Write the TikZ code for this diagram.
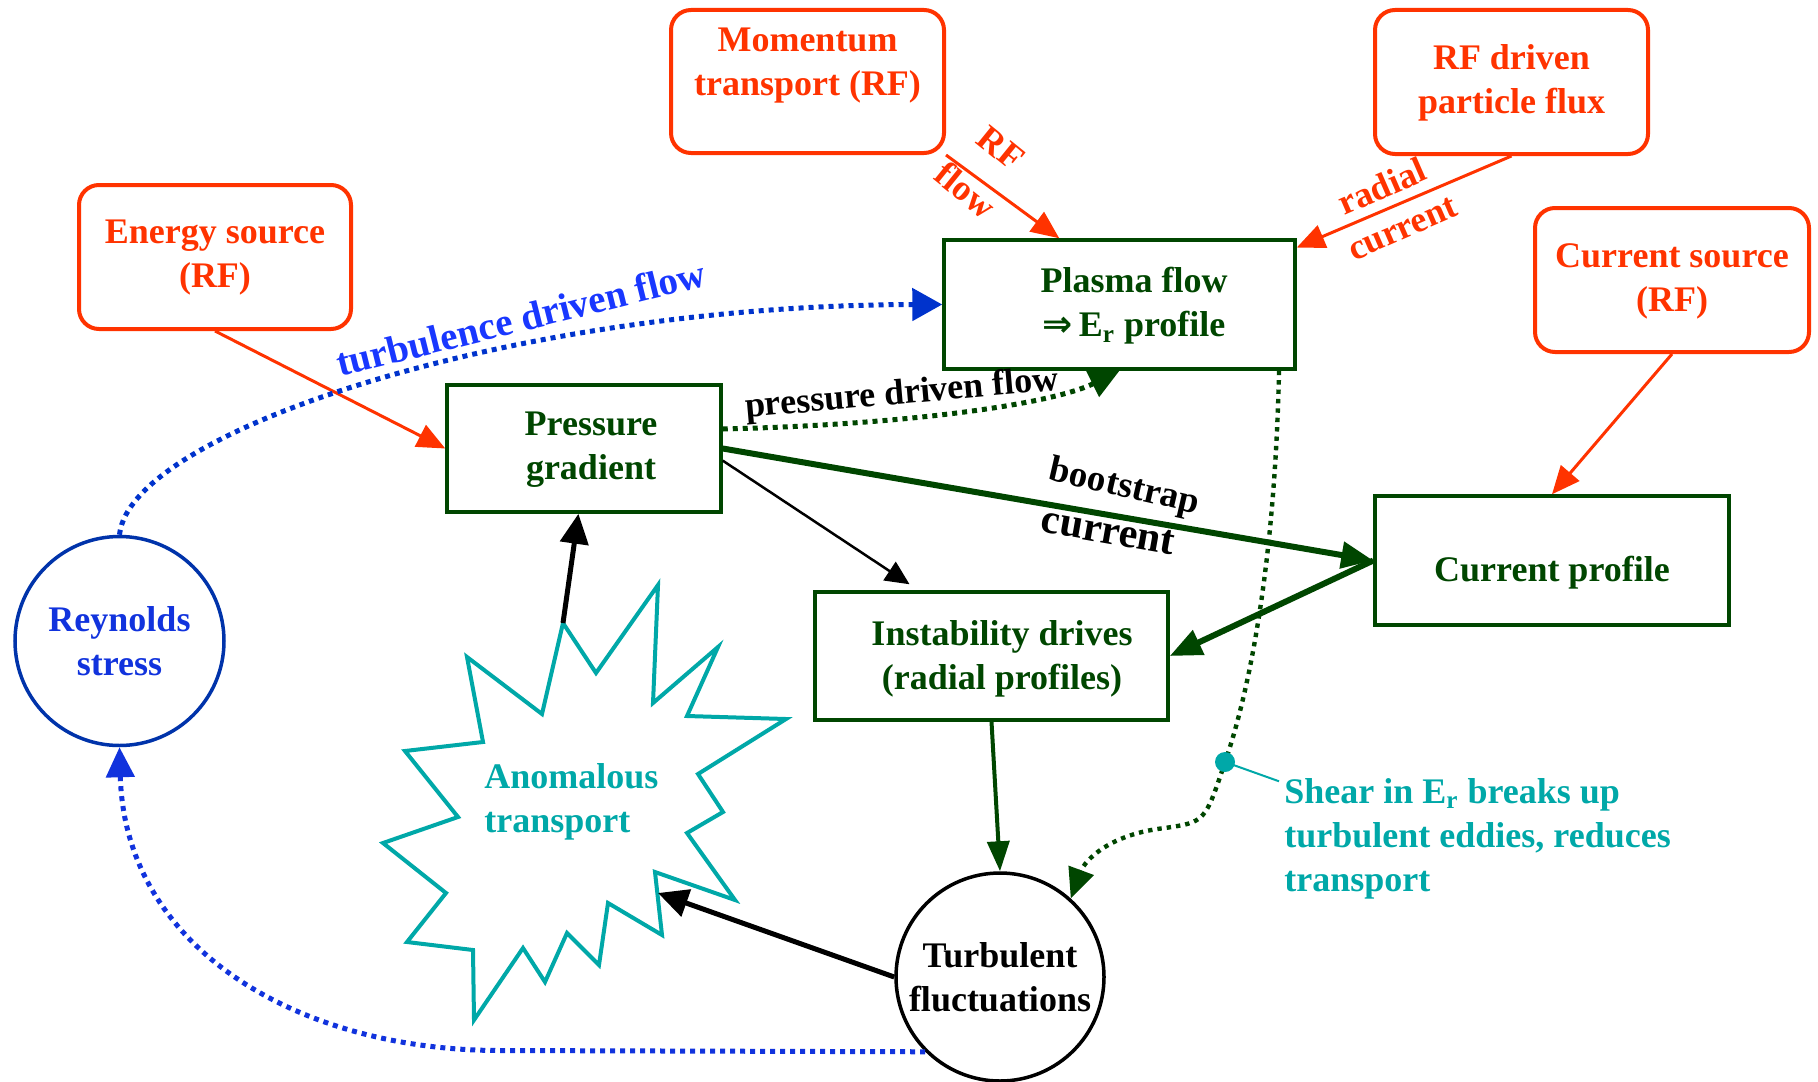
\documentclass[tikz,border=0pt]{standalone}
\usepackage{fontspec}
\setmainfont{Liberation Serif}
\newfontfamily\symfont{DejaVu Sans}
\usetikzlibrary{arrows.meta,calc}
\definecolor{rfred}{RGB}{255,51,0}
\definecolor{dgreen}{RGB}{0,70,0}
\definecolor{tealc}{RGB}{0,168,168}
\definecolor{cblue}{RGB}{0,51,170}
\definecolor{tblue}{RGB}{25,55,255}
\definecolor{lblue}{RGB}{0,51,204}
\definecolor{bblue}{RGB}{17,51,221}
\begin{document}
\begin{tikzpicture}[x=0.5pt,y=-0.5pt,
  txt/.style={font=\fontsize{18}{22}\selectfont\bfseries, align=center, inner sep=0pt},
  rbox/.style={draw=rfred, line width=2pt, rounded corners=10pt, inner sep=0pt},
  gbox/.style={draw=dgreen, line width=1.75pt, inner sep=0pt},
  redarr/.style={draw=rfred, line width=1.5pt, -{Triangle[length=14pt,width=12pt]}},
  garrow/.style={draw=dgreen, line width=3pt, -{Triangle[length=16pt,width=13pt]}},
  garrowb/.style={draw=dgreen, line width=2pt, -{Triangle[length=15pt,width=11pt]}},
  barrow/.style={draw=black, line width=1.25pt, -{Triangle[length=12pt,width=11pt]}},
  bkthick/.style={draw=black, line width=2.5pt, -{Triangle[length=15pt,width=14pt]}},
  bluedot/.style={draw=lblue, line width=2.5pt, dash pattern=on 2.5pt off 2.5pt, -{Triangle[length=15pt,width=16pt]}},
  bluedotb/.style={draw=bblue, line width=2.5pt, dash pattern=on 2.5pt off 2.5pt, -{Triangle[length=15pt,width=14pt]}},
  greendot/.style={draw=dgreen, line width=2.5pt, dash pattern=on 2.5pt off 2.5pt, -{Triangle[length=15pt,width=14pt]}},
  greendotb/.style={draw=dgreen, line width=2.2pt, dash pattern=on 2.2pt off 2.5pt, -{Triangle[length=15pt,width=13pt]}}
]
\useasboundingbox (0,0) rectangle (1818,1081);

% red source boxes
\node[rbox, minimum width=136.5pt, minimum height=71.5pt] (mom) at (807.5,81.5) {};
\node[txt, text=rfred] (momt) at (807.5,66) {Momentum\\transport (RF)};
\node[rbox, minimum width=136.5pt, minimum height=72pt] (rfd) at (1511.5,82) {};
\node[txt, text=rfred] (rfdt) at (1511.5,83) {RF driven\\particle flux};
\node[rbox, minimum width=136pt, minimum height=72pt] (energy) at (215,257) {};
\node[txt, text=rfred] (energyt) at (215,258) {Energy source\\(RF)};
\node[rbox, minimum width=137pt, minimum height=72pt] (csrc) at (1672,280) {};
\node[txt, text=rfred] (csrct) at (1672,281) {Current source\\(RF)};

% green boxes
\node[gbox, minimum width=175.5pt, minimum height=64.5pt] (plasma) at (1119.5,304.5) {};
\node[txt, text=dgreen] (plasmat) at (1134,306) {Plasma flow\\{\symfont\bfseries ⇒}\,E\textsubscript{r} profile};
\node[gbox, minimum width=137pt, minimum height=63.5pt] (press) at (584,448.5) {};
\node[txt, text=dgreen] (presst) at (591,450) {Pressure\\gradient};
\node[gbox, minimum width=177pt, minimum height=64.5pt] (cprof) at (1552,560.5) {};
\node[txt, text=dgreen] (cproft) at (1552,573) {Current profile};
\node[gbox, minimum width=176.5pt, minimum height=64pt] (instab) at (991.5,656) {};
\node[txt, text=dgreen] (instabt) at (1002,659) {Instability drives\\(radial profiles)};

% circles
\node[txt, circle, draw=cblue, line width=1.75pt, minimum size=104.5pt, text=bblue] (reyn) at (119.5,641) {Reynolds\\stress};
\node[txt, circle, draw=black, line width=1.75pt, minimum size=104pt] (turb) at (1000,977) {Turbulent\\fluctuations};

% starburst
\draw[tealc, line width=2pt] (563,623) -- (596,673) -- (658,585) -- (653,703) -- (718,647) -- (687,716) -- (786,719) -- (698,774) -- (723,812) -- (687,833) -- (735,900) -- (655,872) -- (662,935) -- (608,903) -- (599,965) -- (567,933) -- (545,982) -- (523,948) -- (474,1020) -- (473,950) -- (407,942) -- (446,893) -- (383,843) -- (458,817) -- (405,751) -- (483,742) -- (467,657) -- (542,714) -- cycle;
\coordinate (anomtop) at (563,623);
\coordinate (anomhit) at (658,893);
\node[txt, align=left, text=tealc, anchor=west] (anomt) at (484,802) {Anomalous\\transport};

% red connectors
\draw[redarr] (mom.south east) -- ($(plasma.north west)!0.33!(plasma.north east)$);
\node[txt, text=rfred, rotate=-39] (lrf) at (1001,148) {RF};
\node[txt, text=rfred, rotate=-39] (lflow) at (966,190) {flow};
\draw[redarr] (rfd.south) -- ($(plasma.north east)!0.07!(plasma.south east)$);
\node[txt, text=rfred, rotate=23.5] (lradial) at (1382,186) {radial};
\node[txt, text=rfred, rotate=23.5] (lcurr) at (1403,229) {current};
\draw[redarr] (energy.south) -- (press.west);
\draw[redarr] (csrc.south) -- (cprof.north);

% turbulence driven flow
\draw[bluedot] (reyn.north) .. controls (130,430) and (520,305) .. (plasma.west);
\node[txt, font=\fontsize{19.5}{22}\selectfont\bfseries, text=tblue, rotate=14] (ltdf) at (521,318) {turbulence driven flow};

% pressure driven flow
\draw[greendot] (press.8) .. controls (900,425) and (1050,405) .. (plasma.south);
\node[txt, text=black, rotate=5] (lpdf) at (902,395) {pressure driven flow};

% bootstrap current
\draw[garrow] (press.east) -- (cprof.west);
\node[txt, font=\fontsize{18.5}{22}\selectfont\bfseries, rotate=-13] (lboot) at (1124,488) {bootstrap};
\node[txt, font=\fontsize{21}{22}\selectfont\bfseries, rotate=-10] (lbcur) at (1108,532) {current};

\draw[barrow] (press.-5) -- ($(instab.north west)!0.27!(instab.north east)+(0,-6)$);
\draw[garrow] (cprof.west) -- (instab.east);
\draw[garrowb] (instab.south) -- (turb.north);
\draw[bkthick] (turb.west) -- (anomhit);
\draw[bkthick] (anomtop) -- ($(press.south west)!0.48!(press.south east)$);

% shear
\coordinate (sheardot) at (1225,762);
\draw[greendotb] ($(plasma.south west)!0.95!(plasma.south east)$) .. controls (1275,560) and (1250,690) .. (sheardot) .. controls (1205,822) .. (1165,828) .. controls (1110,834) and (1085,860) .. (turb.48);
\node[txt, align=left, text=tealc, anchor=west] (sheart) at (1284,839) {Shear in E\textsubscript{r} breaks up\\turbulent eddies, reduces\\transport};
\draw[tealc, line width=1pt] (sheardot) -- ($(sheart.north west)+(-5,3)$);
\fill[tealc] (sheardot) circle (5pt);

% Reynolds stress feedback
\draw[bluedotb] (turb.225) -- (500,1050.5) .. controls (300,1050.5) and (125,950) .. (reyn.south);
\end{tikzpicture}
\end{document}
